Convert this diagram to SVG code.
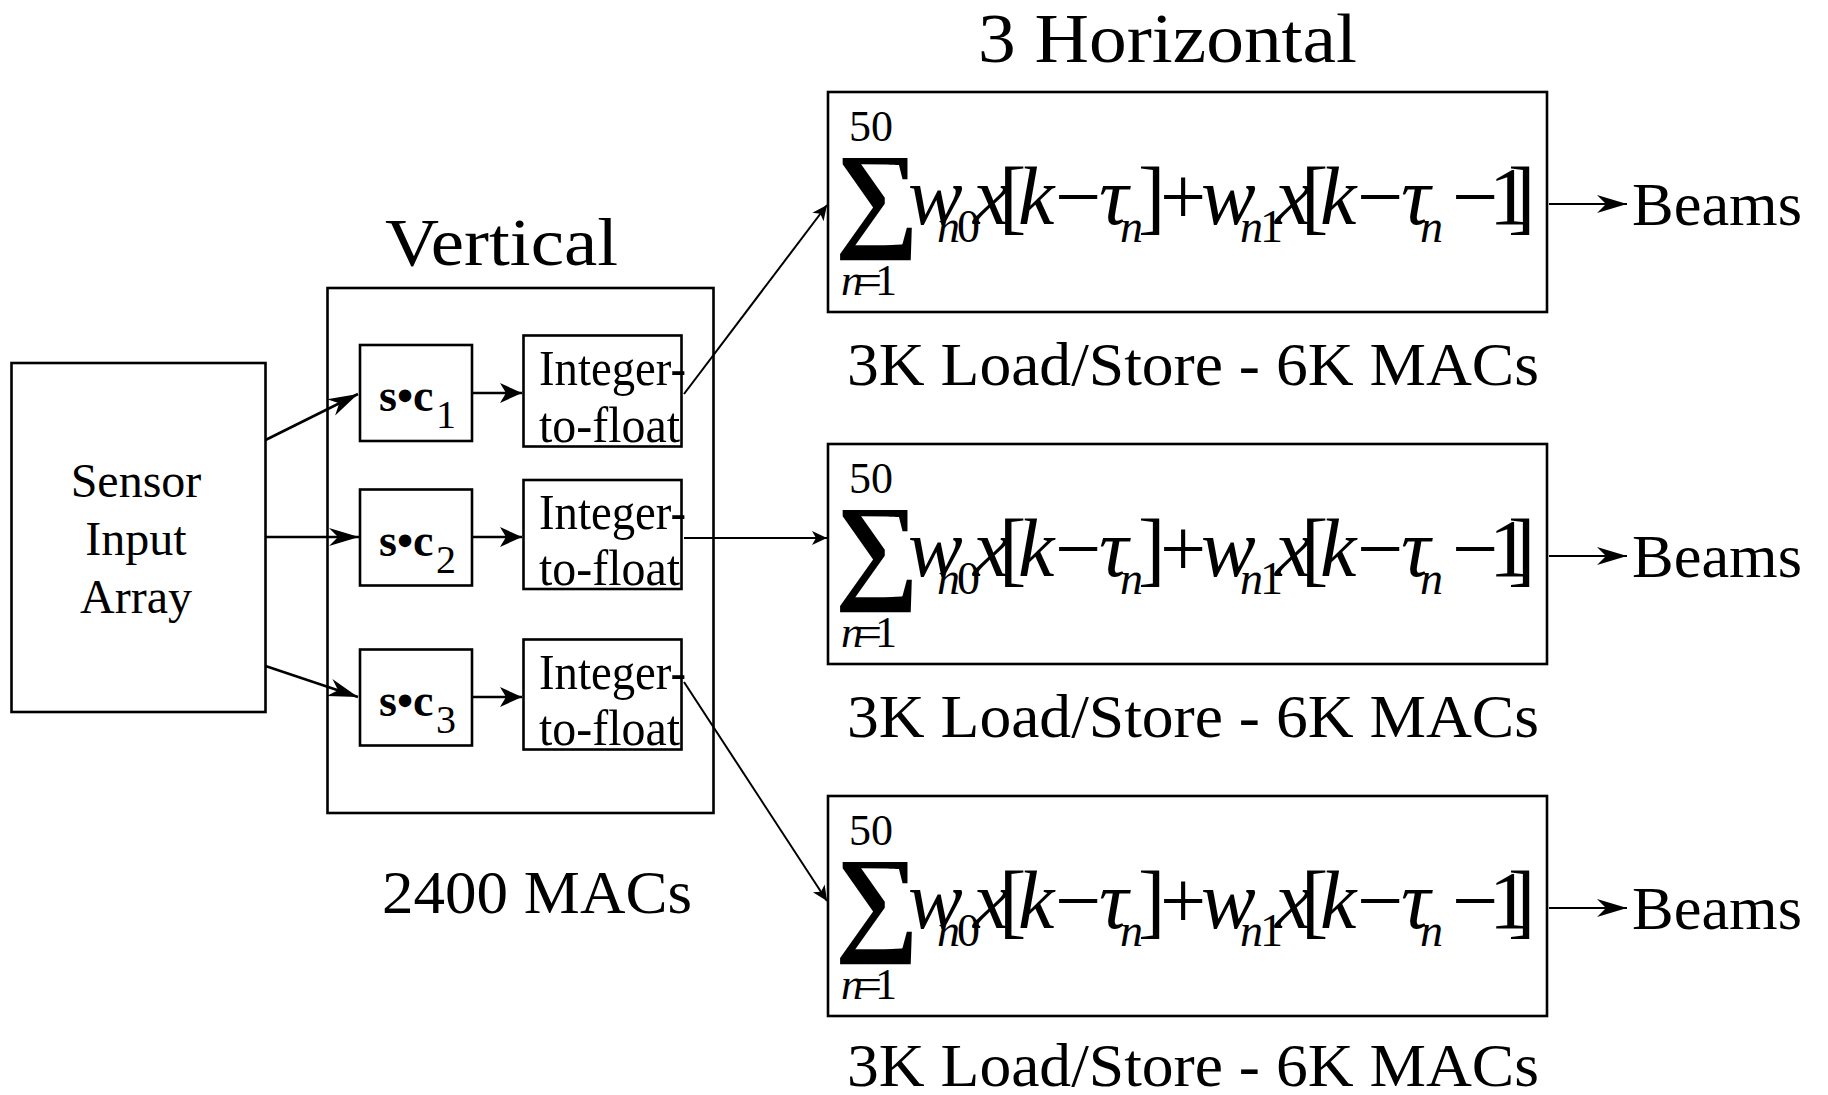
<svg xmlns="http://www.w3.org/2000/svg" width="1828" height="1095" viewBox="0 0 1828 1095">
  <style>
    .t { font-family: "Liberation Serif", "Times New Roman", serif; fill: #000; }
    .i { font-style: italic; }
    .b { font-weight: bold; }
    .box { fill: #fff; stroke: #000; stroke-width: 2.6; }
    .ln { fill: none; stroke: #000; stroke-width: 2.6; }
    .thin { fill: none; stroke: #000; stroke-width: 2; }
  </style>
  <defs>
    <marker id="ahBig" markerUnits="userSpaceOnUse" markerWidth="32" markerHeight="20" refX="30" refY="10" orient="auto" overflow="visible">
      <path d="M0,1 L30,10 L0,19 L9,10 Z" fill="#000"/>
    </marker>
    <marker id="ahMid" markerUnits="userSpaceOnUse" markerWidth="24" markerHeight="20" refX="22" refY="10" orient="auto" overflow="visible">
      <path d="M0,0 L22,10 L0,20 L6,10 Z" fill="#000"/>
    </marker>
    <marker id="ahSmall" markerUnits="userSpaceOnUse" markerWidth="16" markerHeight="14" refX="15" refY="7" orient="auto" overflow="visible">
      <path d="M0,0 L15,7 L0,14 L4,7 Z" fill="#000"/>
    </marker>
  </defs>

  <!-- section headings -->
  <text class="t" x="978" y="62" font-size="70" textLength="379" lengthAdjust="spacingAndGlyphs">3 Horizontal</text>
  <text class="t" x="385" y="265" font-size="68" textLength="233" lengthAdjust="spacingAndGlyphs">Vertical</text>
  <text class="t" x="382" y="913" font-size="62" textLength="310" lengthAdjust="spacingAndGlyphs">2400 MACs</text>

  <!-- sensor input -->
  <g id="sensor">
    <rect class="box" x="11.5" y="363" width="254" height="349"/>
    <text class="t" x="136" y="497" font-size="48" text-anchor="middle">Sensor</text>
    <text class="t" x="136" y="555" font-size="48" text-anchor="middle">Input</text>
    <text class="t" x="136" y="613" font-size="48" text-anchor="middle">Array</text>
  </g>

  <!-- vertical stage container -->
  <g id="vertical">
    <rect class="box" x="327.5" y="288" width="386" height="525"/>
  </g>

  <g id="sc1">
    <rect class="box" x="360" y="345" width="112" height="96"/>
    <text class="t b" x="379" y="411" font-size="46">s•c</text>
    <text class="t" x="436" y="428" font-size="40">1</text>
  </g>
  <g id="sc2">
    <rect class="box" x="360" y="489.5" width="112" height="96"/>
    <text class="t b" x="379" y="555.5" font-size="46">s•c</text>
    <text class="t" x="436" y="572.5" font-size="40">2</text>
  </g>
  <g id="sc3">
    <rect class="box" x="360" y="649.5" width="112" height="96"/>
    <text class="t b" x="379" y="715.5" font-size="46">s•c</text>
    <text class="t" x="436" y="732.5" font-size="40">3</text>
  </g>

  <g id="itof1">
    <rect class="box" x="523.5" y="335.5" width="158" height="111"/>
    <text class="t" x="539" y="385" font-size="50" textLength="147" lengthAdjust="spacingAndGlyphs">Integer-</text>
    <text class="t" x="539" y="442" font-size="50" textLength="141" lengthAdjust="spacingAndGlyphs">to-float</text>
  </g>
  <g id="itof2">
    <rect class="box" x="523.5" y="480" width="158" height="109"/>
    <text class="t" x="539" y="529" font-size="50" textLength="147" lengthAdjust="spacingAndGlyphs">Integer-</text>
    <text class="t" x="539" y="585" font-size="50" textLength="141" lengthAdjust="spacingAndGlyphs">to-float</text>
  </g>
  <g id="itof3">
    <rect class="box" x="523.5" y="639.5" width="158" height="110"/>
    <text class="t" x="539" y="689" font-size="50" textLength="147" lengthAdjust="spacingAndGlyphs">Integer-</text>
    <text class="t" x="539" y="745" font-size="50" textLength="141" lengthAdjust="spacingAndGlyphs">to-float</text>
  </g>

  <!-- horizontal beamformers: weighted delay-and-sum, three copies -->
  <g id="hbeam1">
    <rect class="box" x="828" y="92" width="719" height="220"/>
    <g class="t">
      <text x="849" y="141" font-size="44">50</text>
      <text class="b" x="835" y="235" font-size="118">∑</text>
      <text x="841" y="295" font-size="44"><tspan class="i">n</tspan><tspan x="857">=</tspan><tspan x="875">1</tspan></text>
      <text y="224" font-size="82"><tspan class="i" x="908">w</tspan><tspan class="i" x="973">x</tspan><tspan x="999">[</tspan><tspan class="i" x="1018">k</tspan><tspan x="1055">−</tspan><tspan class="i" x="1099">τ</tspan><tspan x="1138">]</tspan><tspan x="1160">+</tspan><tspan class="i" x="1201">w</tspan><tspan class="i" x="1275">x</tspan><tspan x="1301">[</tspan><tspan class="i" x="1320">k</tspan><tspan x="1357">−</tspan><tspan class="i" x="1401">τ</tspan><tspan x="1452">−</tspan><tspan x="1489">1</tspan><tspan x="1508">]</tspan></text>
      <text y="242" font-size="46"><tspan class="i" x="937">n</tspan><tspan x="957">0</tspan><tspan class="i" x="1120">n</tspan><tspan class="i" x="1240">n</tspan><tspan x="1260">1</tspan><tspan class="i" x="1420">n</tspan></text>
    </g>
    <text class="t" x="847" y="385" font-size="62" textLength="692" lengthAdjust="spacingAndGlyphs">3K Load/Store - 6K MACs</text>
    <text class="t" x="1632" y="225" font-size="62" textLength="170" lengthAdjust="spacingAndGlyphs">Beams</text>
  </g>
  <g id="hbeam2" transform="translate(0,352)">
    <rect class="box" x="828" y="92" width="719" height="220"/>
    <g class="t">
      <text x="849" y="141" font-size="44">50</text>
      <text class="b" x="835" y="235" font-size="118">∑</text>
      <text x="841" y="295" font-size="44"><tspan class="i">n</tspan><tspan x="857">=</tspan><tspan x="875">1</tspan></text>
      <text y="224" font-size="82"><tspan class="i" x="908">w</tspan><tspan class="i" x="973">x</tspan><tspan x="999">[</tspan><tspan class="i" x="1018">k</tspan><tspan x="1055">−</tspan><tspan class="i" x="1099">τ</tspan><tspan x="1138">]</tspan><tspan x="1160">+</tspan><tspan class="i" x="1201">w</tspan><tspan class="i" x="1275">x</tspan><tspan x="1301">[</tspan><tspan class="i" x="1320">k</tspan><tspan x="1357">−</tspan><tspan class="i" x="1401">τ</tspan><tspan x="1452">−</tspan><tspan x="1489">1</tspan><tspan x="1508">]</tspan></text>
      <text y="242" font-size="46"><tspan class="i" x="937">n</tspan><tspan x="957">0</tspan><tspan class="i" x="1120">n</tspan><tspan class="i" x="1240">n</tspan><tspan x="1260">1</tspan><tspan class="i" x="1420">n</tspan></text>
    </g>
    <text class="t" x="847" y="385" font-size="62" textLength="692" lengthAdjust="spacingAndGlyphs">3K Load/Store - 6K MACs</text>
    <text class="t" x="1632" y="225" font-size="62" textLength="170" lengthAdjust="spacingAndGlyphs">Beams</text>
  </g>
  <g id="hbeam3" transform="translate(0,704)">
    <rect class="box" x="828" y="92" width="719" height="220"/>
    <g class="t">
      <text x="849" y="141" font-size="44">50</text>
      <text class="b" x="835" y="235" font-size="118">∑</text>
      <text x="841" y="295" font-size="44"><tspan class="i">n</tspan><tspan x="857">=</tspan><tspan x="875">1</tspan></text>
      <text y="224" font-size="82"><tspan class="i" x="908">w</tspan><tspan class="i" x="973">x</tspan><tspan x="999">[</tspan><tspan class="i" x="1018">k</tspan><tspan x="1055">−</tspan><tspan class="i" x="1099">τ</tspan><tspan x="1138">]</tspan><tspan x="1160">+</tspan><tspan class="i" x="1201">w</tspan><tspan class="i" x="1275">x</tspan><tspan x="1301">[</tspan><tspan class="i" x="1320">k</tspan><tspan x="1357">−</tspan><tspan class="i" x="1401">τ</tspan><tspan x="1452">−</tspan><tspan x="1489">1</tspan><tspan x="1508">]</tspan></text>
      <text y="242" font-size="46"><tspan class="i" x="937">n</tspan><tspan x="957">0</tspan><tspan class="i" x="1120">n</tspan><tspan class="i" x="1240">n</tspan><tspan x="1260">1</tspan><tspan class="i" x="1420">n</tspan></text>
    </g>
    <text class="t" x="847" y="382" font-size="62" textLength="692" lengthAdjust="spacingAndGlyphs">3K Load/Store - 6K MACs</text>
    <text class="t" x="1632" y="225" font-size="62" textLength="170" lengthAdjust="spacingAndGlyphs">Beams</text>
  </g>

  <!-- connectors -->
  <g id="connectors">
    <path class="ln" d="M265.5,440 L358,394" marker-end="url(#ahBig)"/>
    <path class="ln" d="M265.5,537 L359,537" marker-end="url(#ahBig)"/>
    <path class="ln" d="M265.5,666 L358,697" marker-end="url(#ahBig)"/>
    <path class="ln" d="M472,393 L522,393" marker-end="url(#ahMid)"/>
    <path class="ln" d="M472,537 L522,537" marker-end="url(#ahMid)"/>
    <path class="ln" d="M472,697 L522,697" marker-end="url(#ahMid)"/>
    <path class="thin" d="M684,394 L827,205" marker-end="url(#ahSmall)"/>
    <path class="thin" d="M684,538 L827,538" marker-end="url(#ahSmall)"/>
    <path class="thin" d="M684,682 L827,901" marker-end="url(#ahSmall)"/>
    <path class="thin" d="M1549,204 L1627,204" marker-end="url(#ahBig)"/>
    <path class="thin" d="M1549,556 L1627,556" marker-end="url(#ahBig)"/>
    <path class="thin" d="M1549,908 L1627,908" marker-end="url(#ahBig)"/>
  </g>
</svg>
